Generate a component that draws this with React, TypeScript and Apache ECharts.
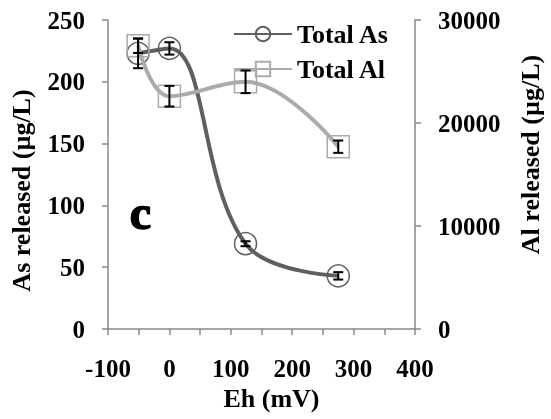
import React, { useEffect, useRef } from "react";
import * as echarts from "echarts";

const eh = [-51, 0, 124, 275];
const asValues = [223, 227, 69, 43];
const asErr = [12, 5, 2, 3];
const alValues = [27500, 22600, 24000, 17700];
const alErr = [700, 1000, 1100, 600];
const xTicks = { min: -100, max: 400, step: 50 };
const leftTicks = { min: 0, max: 250, step: 50 };
const rightTicks = { min: 0, max: 30000, step: 10000 };

const FONT = "'Liberation Serif', 'Times New Roman', serif";
const AXIS_GRAY = "#888888";
const AS_COLOR = "#5f5f5f";
const AL_COLOR = "#ababab";

const labelFont = { fontFamily: FONT, fontWeight: "bold" as const, fontSize: 25, color: "#000" };
const nameFont = { fontFamily: FONT, fontWeight: "bold" as const, fontSize: 26, color: "#000" };

function errorBars(values: number[], errs: number[]) {
  return eh.map((x, i) => [x, values[i] - errs[i], values[i] + errs[i]]);
}

function renderErr(params: any, api: any) {
  const x = api.value(0);
  const lo = api.coord([x, api.value(1)]);
  const hi = api.coord([x, api.value(2)]);
  const w = 5;
  const style = { stroke: "#000", lineWidth: 2 };
  return {
    type: "group",
    children: [
      { type: "line", shape: { x1: lo[0], y1: lo[1], x2: hi[0], y2: hi[1] }, style },
      { type: "line", shape: { x1: lo[0] - w, y1: lo[1], x2: lo[0] + w, y2: lo[1] }, style },
      { type: "line", shape: { x1: hi[0] - w, y1: hi[1], x2: hi[0] + w, y2: hi[1] }, style },
    ],
  };
}

export default function App() {
  const ref = useRef<HTMLDivElement>(null);
  useEffect(() => {
    if (!ref.current) return;
    const chart = echarts.init(ref.current, null, { renderer: "svg" });
    const axisLine = { show: true, onZero: false, lineStyle: { color: AXIS_GRAY, width: 1.5 } };
    const axisTick = { show: true, length: 6, lineStyle: { color: AXIS_GRAY, width: 1.5 } };
    chart.setOption({
      animation: false,
      grid: { left: 106, right: 126, top: 20, bottom: 90 },
      legend: {
        orient: "vertical",
        left: 228,
        top: 16,
        itemWidth: 58,
        itemHeight: 18,
        itemGap: 9,
        data: ["Total As", "Total Al"],
        textStyle: { ...nameFont, lineHeight: 26 },
      },
      graphic: [
        {
          type: "text",
          left: 129,
          top: 188,
          style: {
            text: "c",
            fontFamily: FONT,
            fontWeight: "bold",
            fontSize: 48,
            fill: "#000",
            stroke: "#000",
            lineWidth: 1.5,
          },
        },
      ],
      xAxis: {
        type: "value",
        min: xTicks.min,
        max: xTicks.max,
        interval: xTicks.step,
        name: "Eh (mV)",
        nameLocation: "middle",
        nameGap: 55,
        nameTextStyle: { ...nameFont, padding: [0, 0, 0, 20] },
        axisLine,
        axisTick,
        splitLine: { show: false },
        axisLabel: {
          ...labelFont,
          margin: 27,
          formatter: (v: number) => (v % 100 === 0 ? String(v) : ""),
        },
      },
      yAxis: [
        {
          type: "value",
          position: "left",
          min: leftTicks.min,
          max: leftTicks.max,
          interval: leftTicks.step,
          name: "As released (µg/L)",
          nameLocation: "middle",
          nameRotate: 90,
          nameGap: 74,
          nameTextStyle: { ...nameFont, padding: [0, 32, 0, 0] },
          axisLine,
          axisTick,
          splitLine: { show: false },
          axisLabel: { ...labelFont, margin: 23 },
        },
        {
          type: "value",
          position: "right",
          min: rightTicks.min,
          max: rightTicks.max,
          interval: rightTicks.step,
          name: "Al released (µg/L)",
          nameLocation: "middle",
          nameRotate: 90,
          nameGap: 102,
          nameTextStyle: { ...nameFont, padding: [0, 0, 0, 40] },
          axisLine,
          axisTick,
          splitLine: { show: false },
          axisLabel: { ...labelFont, margin: 23, formatter: (v: number) => String(v) },
        },
      ],
      series: [
        {
          type: "line",
          name: "Total As",
          yAxisIndex: 0,
          data: eh.map((x, i) => [x, asValues[i]]),
          smooth: 0.4,
          symbol: "circle",
          symbolSize: 22,
          itemStyle: { color: "transparent", borderColor: AS_COLOR, borderWidth: 1.5 },
          lineStyle: { color: AS_COLOR, width: 4 },
          z: 2,
        },
        {
          type: "line",
          name: "Total Al",
          yAxisIndex: 1,
          data: eh.map((x, i) => [x, alValues[i]]),
          smooth: 0.4,
          symbol: "rect",
          symbolSize: 22,
          itemStyle: { color: "transparent", borderColor: AL_COLOR, borderWidth: 1.5 },
          lineStyle: { color: AL_COLOR, width: 4 },
          z: 3,
        },
        {
          type: "custom",
          name: "asErr",
          yAxisIndex: 0,
          data: errorBars(asValues, asErr),
          encode: { x: 0, y: [1, 2] },
          renderItem: renderErr,
          silent: true,
          z: 5,
        },
        {
          type: "custom",
          name: "alErr",
          yAxisIndex: 1,
          data: errorBars(alValues, alErr),
          encode: { x: 0, y: [1, 2] },
          renderItem: renderErr,
          silent: true,
          z: 5,
        },
      ],
    });
    return () => chart.dispose();
  }, []);
  return (
    <div
      ref={ref}
      style={{ position: "fixed", left: 0, top: 0, width: 551, height: 419 }}
    />
  );
}
